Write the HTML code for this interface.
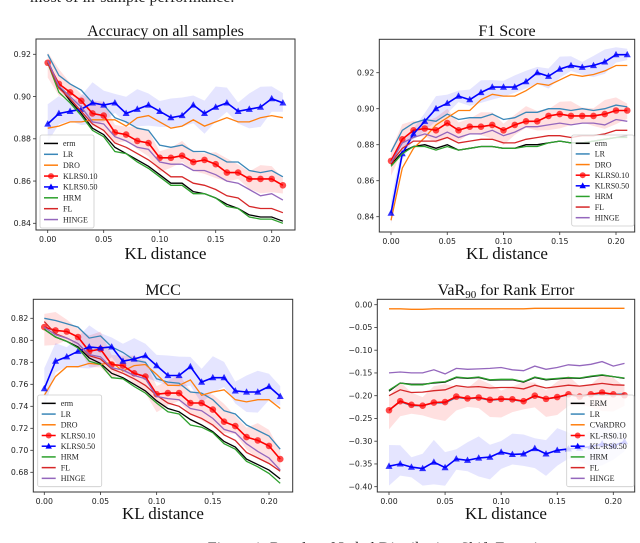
<!DOCTYPE html>
<html><head><meta charset="utf-8"><style>
body{margin:0;background:#fff;width:640px;height:543px;overflow:hidden}
svg{display:block}
.t{font-family:"Liberation Serif",serif}
.k{font-family:"DejaVu Sans","Liberation Sans",sans-serif;font-size:7.8px;fill:#222}
</style></head><body>
<svg id="fig" width="640" height="543" viewBox="0 0 640 543">
<text class="t" x="30" y="2" font-size="16" fill="#222">most of in-sample performance.</text>
<text class="t" x="392" y="553" font-size="16" fill="#222" text-anchor="middle">Figure 1: Results of Label Distribution Shift Experiments</text>
</svg>
<script>
const xs=[0,0.01,0.02,0.03,0.04,0.05,0.06,0.07,0.08,0.09,0.1,0.11,0.12,0.13,0.14,0.15,0.16,0.17,0.18,0.19,0.2,0.21];
const xTicks=[0,0.05,0.1,0.15,0.2];
const xTickLabels=["0.00","0.05","0.10","0.15","0.20"];
const names1=["erm","LR","DRO","KLRS0.10","KLRS0.50","HRM","FL","HINGE"];
const names4=["ERM","LR","CVaRDRO","KL-RS0.10","KL-RS0.50","HRM","FL","HINGE"];
// Panel 1: Accuracy
const acc_erm=[.917,.905,.898,.892,.885,.882,.876,.873,.870,.867,.863,.859,.859,.855,.854,.852,.849,.847,.844,.843,.843,.841];
const acc_lr=[.920,.910,.906,.903,.897,.896,.890,.888,.885,.884,.877,.876,.877,.874,.874,.872,.869,.869,.865,.864,.865,.862];
const acc_dro=[.885,.886,.888,.888,.889,.889,.889,.886,.890,.891,.888,.885,.886,.889,.886,.888,.890,.888,.888,.890,.891,.890];
const acc_k10=[.916,.906,.902,.898,.892,.891,.883,.882,.879,.878,.871,.871,.872,.869,.870,.868,.864,.864,.861,.861,.861,.858];
const acc_k50=[.887,.892,.893,.894,.897,.896,.897,.892,.894,.896,.893,.890,.891,.896,.892,.895,.897,.893,.894,.895,.899,.897];
const acc_hrm=[.916,.902,.897,.891,.884,.881,.874,.873,.869,.866,.862,.858,.858,.854,.854,.852,.848,.847,.843,.842,.842,.840];
const acc_fl=[.916,.904,.899,.893,.887,.884,.878,.876,.873,.870,.866,.862,.862,.859,.858,.856,.853,.852,.848,.847,.847,.845];
const acc_hinge=[.917,.905,.900,.895,.888,.887,.881,.879,.876,.875,.869,.868,.868,.865,.865,.863,.860,.859,.856,.853,.854,.851];
const acc_yTicks=[0.84,0.86,0.88,0.90,0.92];
const acc_yLabels=["0.84","0.86","0.88","0.90","0.92"];
const acc_bands=[0.005,0.007];
// Panel 2: F1
const f1_erm=[.869,.876,.879,.880,.878,.880,.877,.878,.879,.879,.878,.878,.880,.880,.881,.882,.881,.881,.882,.883,.884,.885];
const f1_lr=[.876,.888,.892,.894,.893,.897,.894,.895,.895,.897,.894,.895,.898,.898,.900,.900,.899,.900,.899,.900,.902,.901];
const f1_dro=[.838,.867,.878,.884,.891,.895,.899,.899,.905,.908,.907,.907,.910,.914,.913,.916,.919,.918,.919,.921,.924,.924];
const f1_k10=[.871,.883,.888,.889,.888,.892,.888,.890,.890,.891,.888,.891,.893,.893,.896,.897,.896,.896,.896,.897,.899,.899];
const f1_k50=[.842,.875,.886,.893,.900,.903,.907,.905,.909,.912,.912,.912,.915,.920,.918,.922,.924,.923,.924,.926,.930,.930];
const f1_hrm=[.868,.875,.879,.879,.877,.879,.877,.878,.879,.879,.878,.878,.879,.879,.881,.882,.881,.881,.882,.883,.884,.884];
const f1_fl=[.870,.878,.882,.882,.882,.884,.881,.882,.883,.883,.881,.881,.883,.884,.885,.885,.884,.885,.885,.886,.888,.888];
const f1_hinge=[.870,.881,.884,.886,.884,.887,.884,.886,.886,.888,.885,.887,.890,.890,.891,.892,.891,.892,.892,.891,.894,.893];
const f1_yTicks=[0.84,0.86,0.88,0.90,0.92];
const f1_yLabels=["0.84","0.86","0.88","0.90","0.92"];
const f1_bands=[0.006,0.005];
// Panel 3: MCC
const mcc_erm=[.810,.803,.799,.794,.784,.779,.770,.766,.760,.754,.745,.738,.735,.728,.723,.717,.708,.703,.692,.687,.682,.674];
const mcc_lr=[.820,.818,.815,.812,.802,.804,.794,.789,.782,.780,.765,.762,.761,.753,.752,.746,.736,.733,.723,.718,.713,.701];
const mcc_dro=[.750,.767,.776,.776,.779,.778,.780,.772,.777,.778,.769,.759,.759,.764,.750,.753,.755,.746,.744,.746,.746,.738];
const mcc_k10=[.812,.809,.808,.803,.790,.792,.778,.777,.770,.767,.751,.752,.752,.743,.743,.737,.726,.722,.712,.709,.704,.692];
const mcc_k50=[.756,.781,.785,.790,.794,.793,.794,.781,.783,.786,.777,.768,.768,.776,.762,.766,.766,.754,.753,.753,.758,.749];
const mcc_hrm=[.810,.803,.799,.793,.781,.778,.766,.765,.758,.752,.743,.735,.733,.723,.721,.716,.706,.701,.690,.685,.679,.670];
const mcc_fl=[.817,.806,.802,.797,.786,.783,.774,.770,.765,.759,.750,.743,.740,.733,.729,.723,.714,.709,.698,.693,.688,.681];
const mcc_hinge=[.812,.805,.802,.797,.787,.785,.775,.773,.768,.765,.749,.747,.746,.738,.736,.729,.719,.716,.706,.699,.693,.682];
const mcc_yTicks=[0.68,0.70,0.72,0.74,0.76,0.78,0.80,0.82];
const mcc_yLabels=["0.68","0.70","0.72","0.74","0.76","0.78","0.80","0.82"];
const mcc_bands=[0.012,0.014];
// Panel 4: VaR90
const var_erm=[-.19,-.172,-.175,-.175,-.172,-.17,-.16,-.162,-.16,-.166,-.165,-.165,-.17,-.16,-.165,-.163,-.161,-.162,-.158,-.155,-.158,-.162];
const var_lr=[-.232,-.213,-.222,-.222,-.216,-.216,-.204,-.207,-.205,-.21,-.208,-.209,-.213,-.201,-.207,-.204,-.198,-.202,-.198,-.194,-.197,-.196];
const var_dro=[-.009,-.009,-.01,-.01,-.009,-.009,-.009,-.009,-.009,-.009,-.009,-.009,-.009,-.008,-.008,-.008,-.008,-.008,-.008,-.008,-.008,-.008];
const var_k10=[-.232,-.212,-.22,-.222,-.215,-.214,-.202,-.206,-.204,-.209,-.207,-.208,-.212,-.2,-.207,-.203,-.197,-.202,-.197,-.193,-.197,-.199];
const var_k50=[-.355,-.35,-.357,-.36,-.346,-.358,-.339,-.342,-.337,-.335,-.324,-.329,-.328,-.316,-.328,-.32,-.317,-.315,-.312,-.306,-.31,-.301];
const var_hrm=[-.188,-.172,-.176,-.176,-.171,-.169,-.159,-.161,-.159,-.165,-.164,-.164,-.169,-.159,-.164,-.162,-.16,-.161,-.157,-.154,-.158,-.161];
const var_fl=[-.2,-.187,-.193,-.192,-.189,-.187,-.178,-.181,-.18,-.183,-.182,-.182,-.185,-.177,-.183,-.18,-.177,-.179,-.176,-.173,-.176,-.177];
const var_hinge=[-.15,-.148,-.15,-.15,-.143,-.152,-.14,-.142,-.141,-.14,-.138,-.143,-.145,-.135,-.142,-.138,-.132,-.134,-.131,-.125,-.135,-.129];
const var_yTicks=[-0.40,-0.35,-0.30,-0.25,-0.20,-0.15,-0.10,-0.05,0.00];
const var_yLabels=["\u22120.40","\u22120.35","\u22120.30","\u22120.25","\u22120.20","\u22120.15","\u22120.10","\u22120.05","0.00"];
const var_bands=[0.03,0.035];

const colors=["#000000","#3a87b8","#ff7f0e","#ff0000","#0000ff","#2ca02c","#d62728","#9467bd"];
const NS="http://www.w3.org/2000/svg";
const svg=document.getElementById('fig');
function mk(tag,attrs,parent){const e=document.createElementNS(NS,tag);for(const k in attrs)e.setAttribute(k,attrs[k]);(parent||svg).appendChild(e);return e;}

const panels=[
 {id:"accuracy",title:"Accuracy on all samples",box:[36,39,295,230],x0:47.7,x1:271.7,yA:[0.92,54.3],yB:[0.84,223.3],series:[acc_erm,acc_lr,acc_dro,acc_k10,acc_k50,acc_hrm,acc_fl,acc_hinge],yt:acc_yTicks,yl:acc_yLabels,bands:acc_bands,names:names1,leg:[40,135,94,228],titleY:36,xlY:259},
 {id:"f1",title:"F1 Score",box:[379.3,39.3,634.7,232],x0:391,x1:616,yA:[0.92,72.7],yB:[0.84,216.7],series:[f1_erm,f1_lr,f1_dro,f1_k10,f1_k50,f1_hrm,f1_fl,f1_hinge],yt:f1_yTicks,yl:f1_yLabels,bands:f1_bands,names:names1,leg:[571.7,135,634,226],titleY:36,xlY:259},
 {id:"mcc",title:"MCC",box:[33.3,299.3,292.7,492],x0:44.3,x1:269,yA:[0.82,318.3],yB:[0.68,472.3],series:[mcc_erm,mcc_lr,mcc_dro,mcc_k10,mcc_k50,mcc_hrm,mcc_fl,mcc_hinge],yt:mcc_yTicks,yl:mcc_yLabels,bands:mcc_bands,names:names1,leg:[37.7,395,101.7,486.7],titleY:295,xlY:519},
 {id:"var90",title:"VaR",box:[377.3,299.3,634.7,492],x0:389,x1:613.3,yA:[0,304.7],yB:[-0.40,486.7],series:[var_erm,var_lr,var_dro,var_k10,var_k50,var_hrm,var_fl,var_hinge],yt:var_yTicks,yl:var_yLabels,bands:var_bands,names:names4,leg:[566.7,395,634,486.7],titleY:295,xlY:519}
];

panels.forEach(p=>{
 const g=mk('g',{});
 
 
 const X=v=>p.x0+(p.x1-p.x0)*v/0.2;
 const Y=v=>p.yB[1]+(p.yA[1]-p.yB[1])*(v-p.yB[0])/(p.yA[0]-p.yB[0]);
 const [bx0,by0,bx1,by1]=p.box;
 const clip=mk('clipPath',{id:'clip-'+p.id},g);
 mk('rect',{x:bx0,y:by0,width:bx1-bx0,height:by1-by0},clip);
 const plot=mk('g',{'clip-path':'url(#clip-'+p.id+')'},g);
 [[3,'#ff0000',0.12],[4,'#0000ff',0.1]].forEach(([si,c,op],bi)=>{
  const s=p.series[si],w=p.bands[bi];
  let d='M'+xs.map((x,i)=>X(x)+','+Y(s[i]+w*(1+0.4*Math.sin(i*1.7+bi)))).join('L');
  d+='L'+xs.slice().reverse().map((x,j)=>{const i=xs.length-1-j;return X(x)+','+Y(s[i]-w*(1+0.4*Math.cos(i*1.3+bi)));}).join('L')+'Z';
  const b=mk('path',{d:d,fill:c,'fill-opacity':op,stroke:'none'},plot);
  
  
 });
 p.series.forEach((s,si)=>{
  const d='M'+xs.map((x,i)=>X(x).toFixed(1)+','+Y(s[i]).toFixed(1)).join('L');
  const l=mk('path',{d:d,fill:'none',stroke:colors[si],'stroke-width':(si==3||si==4)?1.6:1.3},plot);
  
  
  if(si==3||si==4){xs.forEach((x,i)=>{
   let m;
   if(si==3)m=mk('circle',{cx:X(x),cy:Y(s[i]),r:3.3,fill:'#ff0000','fill-opacity':0.7},plot);
   else{const cx=X(x),cy=Y(s[i]);m=mk('path',{d:`M${cx},${cy-3.8}L${cx+3.5},${cy+2.6}L${cx-3.5},${cy+2.6}Z`,fill:'#0000ff','fill-opacity':0.8},plot);}
   
   
  });}
 });
 const fr=mk('rect',{x:bx0,y:by0,width:bx1-bx0,height:by1-by0,fill:'none',stroke:'#333','stroke-width':1},g);
 
 
 xTicks.forEach((t,i)=>{
  mk('line',{x1:X(t),x2:X(t),y1:by1,y2:by1+3,stroke:'#333','stroke-width':0.8},g);
  const tl=mk('text',{x:X(t),y:by1+12,'text-anchor':'middle',class:'k'},g);tl.textContent=xTickLabels[i];
  
  
 });
 p.yt.forEach((t,i)=>{
  mk('line',{x1:bx0-3,x2:bx0,y1:Y(t),y2:Y(t),stroke:'#333','stroke-width':0.8},g);
  const tl=mk('text',{x:bx0-5,y:Y(t)+2.7,'text-anchor':'end',class:'k'},g);tl.textContent=p.yl[i];
  
  
 });
 const tt=mk('text',{x:(bx0+bx1)/2,y:p.titleY,'text-anchor':'middle',class:'t','font-size':16,fill:'#111'},g);
 tt.textContent=p.title;
 if(p.id==='var90'){const sub=mk('tspan',{'font-size':11,dy:3},tt);sub.textContent='90';const rest=mk('tspan',{dy:-3},tt);rest.textContent=' for Rank Error';}
 
 
 const xl=mk('text',{x:(bx0+bx1)/2,y:p.xlY,'text-anchor':'middle',class:'t','font-size':17,fill:'#111'},g);
 xl.textContent='KL distance';
 
 
 const [lx0,ly0,lx1,ly1]=p.leg;
 const lg=mk('g',{},g);
 
 
 mk('rect',{x:lx0,y:ly0,width:lx1-lx0,height:ly1-ly0,fill:'#fff','fill-opacity':0.8,stroke:'#ccc','stroke-width':0.8,rx:2},lg);
 const step=(ly1-ly0-6)/8;
 p.names.forEach((n,i)=>{
  const yy=ly0+3+step*(i+0.5);
  const e=mk('g',{},lg);
  
  
  mk('line',{x1:lx0+4,x2:lx0+18,y1:yy,y2:yy,stroke:colors[i],'stroke-width':1.5},e);
  if(i==3)mk('circle',{cx:lx0+11,cy:yy,r:3,fill:'#ff0000','fill-opacity':0.7},e);
  if(i==4)mk('path',{d:`M${lx0+11},${yy-3.5}L${lx0+14.2},${yy+2.4}L${lx0+7.8},${yy+2.4}Z`,fill:'#0000ff'},e);
  const t=mk('text',{x:lx0+23,y:yy+2.8,class:'t','font-size':8,fill:'#222'},e);t.textContent=n;
 });
});
</script>
</body></html>
